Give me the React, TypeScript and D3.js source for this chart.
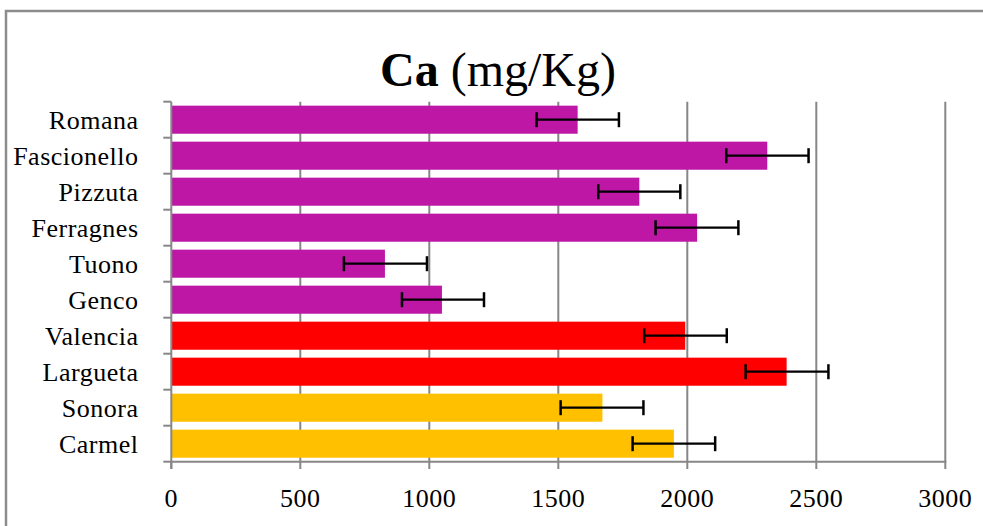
import React, { useEffect } from "react";
import * as d3 from "d3";

const cultivars = ["Romana", "Fascionello", "Pizzuta", "Ferragnes", "Tuono", "Genco", "Valencia", "Largueta", "Sonora", "Carmel"];
const values = [1575, 2310, 1814, 2038, 828, 1049, 1992, 2385, 1671, 1948];
const errLow = [1416, 2151, 1655, 1877, 669, 894, 1833, 2226, 1509, 1788];
const errHigh = [1735, 2470, 1973, 2198, 991, 1212, 2153, 2547, 1830, 2108];
const groups = ["A", "A", "A", "A", "A", "A", "B", "B", "C", "C"];
const xTicks = [0, 500, 1000, 1500, 2000, 2500, 3000];

const W = 983;
const H = 526;
const colorOf: Record<string, string> = { A: "#BE17A5", B: "#FF0000", C: "#FFC000" };

export default function App() {
  useEffect(() => {
    document.body.style.margin = "0";
  }, []);

  const x = d3.scaleLinear().domain([0, 3000]).range([171.3, 945.3]);
  const y = d3.scaleBand<string>().domain(cultivars).range([101.7, 461.7]).paddingInner(0.22).paddingOuter(0.11);
  const step = y.step();
  const boundaries = d3.range(cultivars.length + 1).map((i) => 101.7 + i * step);
  const grey = "#878787";
  const serif = "'Liberation Serif', 'Times New Roman', serif";

  return (
    <svg width={W} height={H} style={{ position: "absolute", left: 0, top: 0, background: "#fff" }}>
      <rect x={0} y={0} width={W} height={H} fill="#fff" />
      <path d={`M6,${H + 5} L6,11 L${W + 5},11`} fill="none" stroke="#8c8c8c" strokeWidth={2.5} />
      <text x={498} y={85.7} textAnchor="middle" fontFamily={serif} fontSize={48} fill="#000">
        <tspan fontWeight="bold">Ca</tspan>
        <tspan> (mg/Kg)</tspan>
      </text>
      {xTicks.slice(1).map((t) => (
        <line key={"g" + t} x1={x(t)} x2={x(t)} y1={101.7} y2={461.7} stroke={grey} strokeWidth={2} />
      ))}
      {cultivars.map((c, i) => (
        <rect key={"b" + c} x={x(0)} y={y(c)!} width={x(values[i]) - x(0)} height={y.bandwidth()} fill={colorOf[groups[i]]} />
      ))}
      <line x1={x(0)} x2={x(0)} y1={101.7} y2={469} stroke={grey} strokeWidth={2} />
      <line x1={x(0) - 1} x2={x(3000) + 1} y1={461.7} y2={461.7} stroke={grey} strokeWidth={2} />
      {boundaries.map((b, i) => (
        <line key={"yt" + i} x1={x(0) - 8} x2={x(0)} y1={b} y2={b} stroke={grey} strokeWidth={2} />
      ))}
      {xTicks.map((t) => (
        <line key={"xt" + t} x1={x(t)} x2={x(t)} y1={461.7} y2={469} stroke={grey} strokeWidth={2} />
      ))}
      {cultivars.map((c, i) => {
        const cy = y(c)! + y.bandwidth() / 2;
        return (
          <g key={"e" + c} stroke="#000">
            <line x1={x(errLow[i])} x2={x(errHigh[i])} y1={cy} y2={cy} strokeWidth={2.2} />
            <line x1={x(errLow[i])} x2={x(errLow[i])} y1={cy - 7.5} y2={cy + 7.5} strokeWidth={2.5} />
            <line x1={x(errHigh[i])} x2={x(errHigh[i])} y1={cy - 7.5} y2={cy + 7.5} strokeWidth={2.5} />
          </g>
        );
      })}
      {cultivars.map((c) => (
        <text key={"l" + c} x={138.5} y={y(c)! + y.bandwidth() / 2 + 9} textAnchor="end" fontFamily={serif} fontSize={26} letterSpacing={0.5} fill="#000">
          {c}
        </text>
      ))}
      {xTicks.map((t) => (
        <text key={"xl" + t} x={x(t)} y={507} textAnchor="middle" fontFamily={serif} fontSize={26} letterSpacing={0.5} fill="#000">
          {t}
        </text>
      ))}
    </svg>
  );
}
